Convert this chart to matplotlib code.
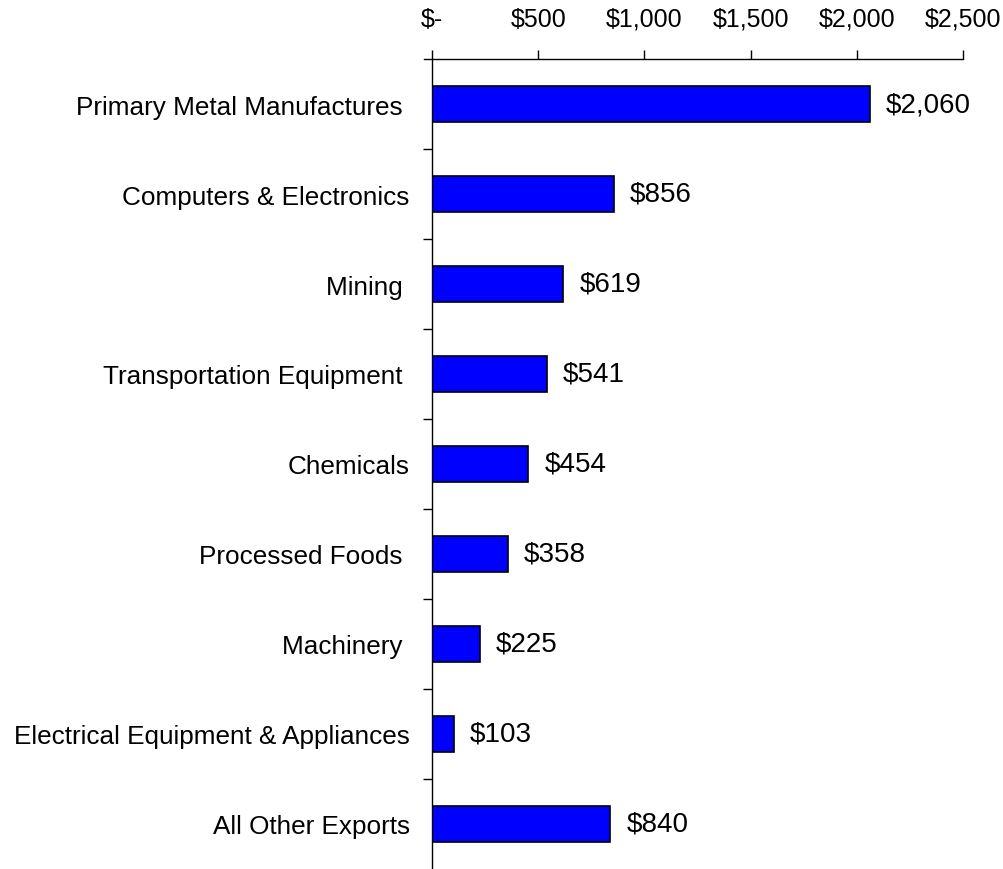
import numpy as np
import matplotlib
matplotlib.use('Agg')
import matplotlib.pyplot as plt
from matplotlib.ticker import FixedLocator, FuncFormatter

plt.rcParams['font.family'] = ['Liberation Sans', 'DejaVu Sans']

# data
categories = ['Primary Metal Manufactures ', 'Computers & Electronics', 'Mining ',
              'Transportation Equipment ', 'Chemicals', 'Processed Foods ',
              'Machinery ', 'Electrical Equipment & Appliances', 'All Other Exports']
values = [2060, 856, 619, 541, 454, 358, 225, 103, 840]
xticks = [0, 500, 1000, 1500, 2000, 2500]


def money(v, pos=None):
    if v == 0:
        return '$-'
    return '${:,.0f}'.format(v)


fig = plt.figure(figsize=(10.04, 8.7), dpi=100)
ax = fig.add_axes([432 / 1004, 0.0, 531 / 1004, 810 / 870])

y = np.arange(len(categories))
bars = ax.barh(y, values, height=0.4, color='#0000FF', edgecolor='black', linewidth=1.2)
ax.set_ylim(len(categories) - 0.5, -0.5)
ax.set_xlim(0, 2500)

# value labels
for b, v in zip(bars, values):
    ax.annotate(money(v), (b.get_width(), b.get_y() + b.get_height() / 2),
                xytext=(16, 0), textcoords='offset pixels',
                va='center', ha='left', fontsize=20)

# x axis on top
ax.xaxis.tick_top()
ax.set_xticks(xticks)
ax.xaxis.set_major_formatter(FuncFormatter(money))
ax.tick_params(axis='x', direction='out', length=6.5, width=1, labelsize=18, pad=14)

# y ticks at category boundaries, labels centred
ax.yaxis.set_major_locator(FixedLocator(y))
ax.set_yticklabels(categories, fontsize=18.8)
ax.yaxis.set_minor_locator(FixedLocator(np.arange(0.5, len(categories) - 1, 1)))
ax.tick_params(axis='y', which='major', length=0, pad=16)
ax.tick_params(axis='y', which='minor', length=6.5, width=1)

ax.spines['right'].set_visible(False)
ax.spines['bottom'].set_visible(False)
ax.spines['top'].set_bounds(-40, 2500)
ax.spines['top'].set_linewidth(1)
ax.spines['left'].set_linewidth(1)

plt.savefig('out.png', dpi=100)
